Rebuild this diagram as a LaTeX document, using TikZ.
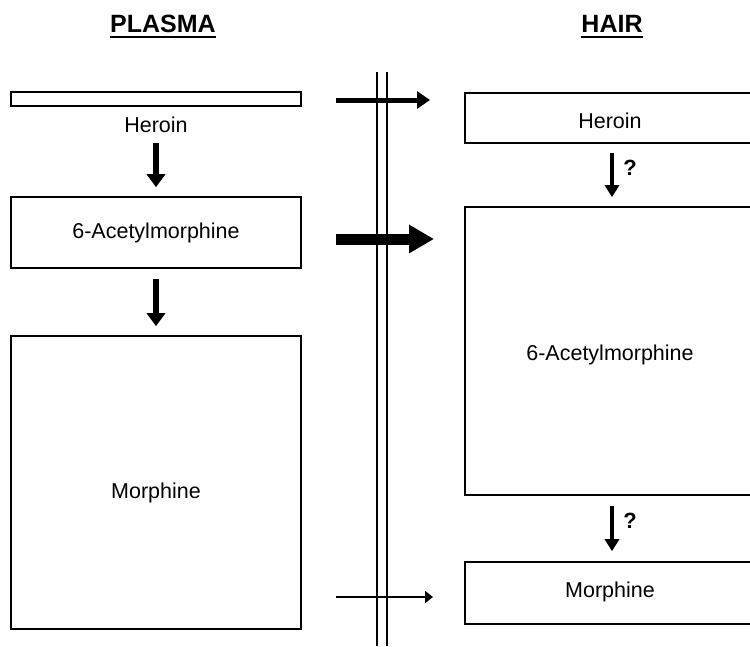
\documentclass[tikz,border=0pt]{standalone}
\usepackage{fontspec}
\setmainfont{Liberation Sans}
\usetikzlibrary{arrows.meta,calc}
\begin{document}
\begin{tikzpicture}[x=1pt,y=-1pt,
  box/.style={draw,line width=1.6pt,inner sep=0pt},
  lbl/.style={inner sep=0pt,font=\fontsize{21.5}{25}\selectfont},
  ttl/.style={inner sep=0pt,anchor=base,font=\fontsize{25}{30}\selectfont\bfseries},
  qm/.style={inner sep=0pt,font=\fontsize{22}{26}\selectfont\bfseries},
  dnL/.style={line width=6pt,-{Triangle[length=13pt,width=18pt]}},
  dnR/.style={line width=4.5pt,-{Triangle[length=12pt,width=14pt]}},
  hA/.style={line width=5pt,-{Triangle[length=13pt,width=17pt]}},
  hB/.style={line width=11pt,-{Triangle[length=25pt,width=27pt]}},
  hC/.style={line width=2.5pt,-{Triangle[length=8pt,width=12pt]}},
  memb/.style={line width=2.5pt}]
\useasboundingbox[fill=white] (0,0) rectangle (750,646);

% titles
\node[ttl] (tP) at (163,32) {PLASMA};
\node[ttl] (tH) at (612,32) {HAIR};
\draw[line width=2pt] ([yshift=-5pt]tP.base west) -- ([yshift=-5pt]tP.base east);
\draw[line width=2pt] ([yshift=-5pt]tH.base west) -- ([yshift=-5pt]tH.base east);

% plasma side
\node[box,minimum width=290pt,minimum height=14pt] (L0) at (156,99) {};
\node[lbl] (hlab) at (156,125) {Heroin};
\node[box,minimum width=290pt,minimum height=71pt] (L1) at (156,232.5) {};
\node[lbl] (L1t) at (156,232.5) {6-Acetylmorphine};
\node[box,minimum width=290pt,minimum height=293pt] (L2) at (156,482.5) {};
\node[lbl] (L2t) at (156,493) {Morphine};

\draw[dnL] ($(hlab.center)+(0,18)$) -- ([yshift=9pt]L1.north);
\draw[dnL] ([yshift=-10pt]L1.south) -- ([yshift=9pt]L2.north);

% hair side
\node[box,minimum width=286pt,minimum height=50pt] (R0) at (608,118) {};
\node[lbl] (R0t) at (610,121) {Heroin};
\node[box,minimum width=286pt,minimum height=288pt] (R1) at (608,351) {};
\node[lbl] (R1t) at (610,355) {6-Acetylmorphine};
\node[box,minimum width=286pt,minimum height=62pt] (R2) at (608,593) {};
\node[lbl] (R2t) at (610,592) {Morphine};

\draw[dnR] ([xshift=4pt,yshift=-9pt]R0.south) -- ([xshift=4pt,yshift=9pt]R1.north);
\node[qm] (q1) at (630,168) {?};
\draw[dnR] ([xshift=4pt,yshift=-10pt]R1.south) -- ([xshift=4pt,yshift=10pt]R2.north);
\node[qm] (q2) at (630,521) {?};

% membrane
\coordinate (m1t) at (377,72); \coordinate (m1b) at (377,646);
\coordinate (m2t) at (387,72); \coordinate (m2b) at (387,646);
\draw[memb] (m1t) -- (m1b);
\draw[memb] (m2t) -- (m2b);

% transfer arrows
\coordinate (a1s) at (336,100); \coordinate (a1e) at (430,100);
\coordinate (a2s) at (336,239); \coordinate (a2e) at (434,239);
\coordinate (a3s) at (336,597); \coordinate (a3e) at (433,597);
\draw[hA] (a1s) -- (a1e);
\draw[hB] (a2s) -- (a2e);
\draw[hC] (a3s) -- (a3e);
\end{tikzpicture}
\end{document}
